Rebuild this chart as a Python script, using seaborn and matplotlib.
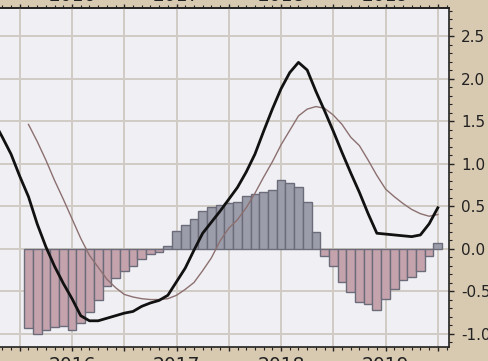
import numpy as np
import pandas as pd
import matplotlib
matplotlib.use("Agg")
import matplotlib.pyplot as plt
import seaborn as sns
from matplotlib.ticker import MultipleLocator, FuncFormatter

# month index, 0 = Jan 2016
macd_months = list(range(-9, 43))
macd = [1.50, 1.31, 1.11, 0.85, 0.61, 0.29, 0.02, -0.21, -0.41, -0.59,
        -0.79, -0.85, -0.85, -0.82, -0.79, -0.76, -0.74, -0.68, -0.64, -0.61,
        -0.55, -0.39, -0.23, -0.02, 0.18, 0.31, 0.44, 0.58, 0.72, 0.90,
        1.11, 1.38, 1.64, 1.88, 2.07, 2.19, 2.10, 1.85, 1.62, 1.38,
        1.13, 0.89, 0.66, 0.41, 0.18, 0.17, 0.16, 0.15, 0.14, 0.16,
        0.29, 0.48]

sig_months = list(range(-5, 43))
signal = [1.46, 1.26, 1.04, 0.80, 0.58, 0.35, 0.12, -0.08, -0.22, -0.36,
          -0.46, -0.54, -0.57, -0.59, -0.60, -0.60, -0.59, -0.55, -0.48, -0.40,
          -0.26, -0.11, 0.09, 0.24, 0.34, 0.48, 0.65, 0.84, 1.02, 1.22,
          1.39, 1.56, 1.64, 1.67, 1.65, 1.57, 1.46, 1.31, 1.21, 1.04,
          0.86, 0.70, 0.61, 0.53, 0.46, 0.41, 0.38, 0.40]

hist = [-0.93, -1.01, -0.96, -0.92, -0.91, -0.96, -0.87, -0.75, -0.61, -0.44,
        -0.35, -0.27, -0.21, -0.12, -0.065, -0.04, 0.03, 0.21, 0.28, 0.35,
        0.44, 0.49, 0.51, 0.53, 0.55, 0.62, 0.64, 0.67, 0.69, 0.81,
        0.77, 0.72, 0.55, 0.20, -0.09, -0.21, -0.39, -0.51, -0.63, -0.65,
        -0.72, -0.59, -0.48, -0.37, -0.33, -0.26, -0.09, 0.07]

year_ticks = [2016, 2017, 2018, 2019]

plt.rcParams['font.family'] = ['DejaVu Sans']
plt.rcParams['axes.unicode_minus'] = False

df_h = pd.DataFrame({'m': sig_months, 'h': hist})
df_h['side'] = np.where(df_h['h'] >= 0, 'pos', 'neg')


def year_label(v, pos):
    m = int(round(v))
    if m % 12 == 0 and 2016 + m // 12 in year_ticks:
        return str(2016 + m // 12)
    return ''


fig = plt.figure(figsize=(4.88, 3.61), dpi=100, facecolor='#d8c9b1')
ax = fig.add_axes([0, 0.040, 0.920, 0.937])
ax.set_facecolor('#f0f0f4')

sns.barplot(data=df_h, x='m', y='h', hue='side', native_scale=True, dodge=False,
            palette={'pos': '#9a9bad', 'neg': '#c99eab'}, width=1.0,
            errorbar=None, legend=False, linewidth=1.0, ax=ax, zorder=2)
for p in ax.patches:
    fc = p.get_facecolor()
    p.set_edgecolor('#6b6b7a' if fc[2] > 0.65 else '#8f6872')

sns.lineplot(x=sig_months, y=signal, color='#8c7070', lw=1.0, ax=ax, zorder=3)
sns.lineplot(x=macd_months, y=macd, color='#111111', lw=2.0, ax=ax, zorder=4)

ax.set_xlim(-8.27, 43.28)
ax.set_ylim(-1.153, 2.826)
ax.set_xlabel('')
ax.set_ylabel('')

ax.xaxis.set_major_locator(MultipleLocator(6))
ax.xaxis.set_minor_locator(MultipleLocator(1))
ax.xaxis.set_major_formatter(FuncFormatter(year_label))
ax.yaxis.set_major_locator(MultipleLocator(0.5))
ax.yaxis.set_minor_locator(MultipleLocator(0.1))
ax.yaxis.set_major_formatter(FuncFormatter(lambda v, pos: f'{v:.1f}'))

ax.grid(True, which='major', color='#d0cbc4', lw=1.4, zorder=0)
ax.set_axisbelow(True)

ax.tick_params(axis='x', which='both', top=False, bottom=True, labeltop=False,
               labelbottom=True, direction='out', labelsize=13.5, colors='#222222')
ax.tick_params(axis='x', which='major', length=3, width=1, pad=3.5)
ax.tick_params(axis='x', which='minor', length=2, width=0.8)
ax.tick_params(axis='y', which='both', left=False, right=True, labelleft=False,
               labelright=True, direction='out', labelsize=11, colors='#222222')
ax.tick_params(axis='y', which='major', length=3.6, width=1, pad=5)
ax.tick_params(axis='y', which='minor', length=2.2, width=0.8)

top = ax.secondary_xaxis('top')
top.xaxis.set_major_locator(MultipleLocator(6))
top.xaxis.set_minor_locator(MultipleLocator(1))
top.xaxis.set_major_formatter(FuncFormatter(year_label))
top.tick_params(axis='x', which='both', direction='out', labelsize=13.5,
                colors='#222222')
top.tick_params(axis='x', which='major', length=3, width=1, pad=-0.4)
top.tick_params(axis='x', which='minor', length=2, width=0.8)
top.spines['top'].set_color('#222222')
top.spines['top'].set_linewidth(1.2)

for s in ['top', 'bottom', 'right']:
    ax.spines[s].set_color('#222222')
    ax.spines[s].set_linewidth(1.2)
ax.spines['left'].set_visible(False)

fig.savefig('out.png', dpi=100, facecolor=fig.get_facecolor())
